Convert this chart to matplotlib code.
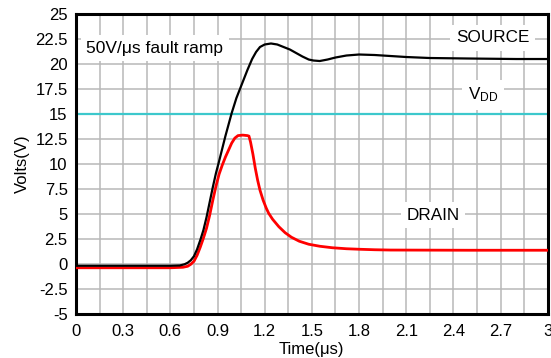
import matplotlib.pyplot as plt
import numpy as np

plt.rcParams['font.family'] = ['Liberation Sans', 'DejaVu Sans']

# SOURCE trace (black)
src_t = [0, 0.3, 0.6, 0.66, 0.69, 0.71, 0.73, 0.75, 0.77, 0.79, 0.81, 0.83, 0.85, 0.87, 0.89,
         0.91, 0.95, 0.99, 1.02, 1.055, 1.09, 1.12, 1.145, 1.17, 1.2, 1.24, 1.28, 1.32, 1.36,
         1.40, 1.44, 1.48, 1.51, 1.55, 1.6, 1.65, 1.72, 1.8, 1.9, 2.0, 2.1, 2.25, 2.5, 2.8, 3.0]
src_v = [-0.15, -0.15, -0.15, -0.12, 0.0, 0.15, 0.4, 0.8, 1.5, 2.4, 3.4, 4.7, 6.2, 7.7, 9.1,
         10.3, 12.8, 15.1, 16.6, 18.0, 19.4, 20.5, 21.2, 21.7, 21.95, 22.05, 21.95, 21.7, 21.45,
         21.1, 20.75, 20.45, 20.35, 20.3, 20.45, 20.65, 20.85, 20.95, 20.9, 20.8, 20.7, 20.6, 20.55, 20.5, 20.5]

# DRAIN trace (red)
drn_t = [0, 0.3, 0.6, 0.68, 0.71, 0.73, 0.75, 0.77, 0.79, 0.81, 0.83, 0.85, 0.87, 0.89, 0.91,
         0.93, 0.95, 0.97, 0.99, 1.01, 1.03, 1.06, 1.09, 1.10, 1.11, 1.125, 1.14, 1.155, 1.17,
         1.19, 1.21, 1.225, 1.25, 1.29, 1.33, 1.37, 1.42, 1.48, 1.55, 1.63, 1.72, 1.8, 1.9,
         2.0, 2.5, 3.0]
drn_v = [-0.35, -0.35, -0.35, -0.3, -0.2, 0.0, 0.3, 0.9, 1.7, 2.6, 3.6, 4.9, 6.4, 7.8, 9.0,
         9.9, 10.7, 11.4, 12.1, 12.6, 12.85, 12.9, 12.85, 12.8, 12.2, 11.0, 9.6, 8.4, 7.4,
         6.4, 5.6, 5.1, 4.5, 3.75, 3.15, 2.7, 2.3, 2.0, 1.8, 1.65, 1.55, 1.5, 1.45,
         1.42, 1.4, 1.4]

vdd = 15

fig = plt.figure(figsize=(5.51, 3.58), dpi=100)
ax = fig.add_axes([0.138, 0.122, 0.856, 0.839])

ax.set_xlim(0, 3)
ax.set_ylim(-5, 25)
ax.set_xticks(np.arange(0, 3.01, 0.3))
ax.set_xticks(np.arange(0, 3.01, 0.15), minor=True)
ax.set_xticklabels(['0', '0.3', '0.6', '0.9', '1.2', '1.5', '1.8', '2.1', '2.4', '2.7', '3'])
ax.set_yticks(np.arange(-5, 25.1, 2.5))
ax.set_yticklabels(['-5', '-2.5', '0', '2.5', '5', '7.5', '10', '12.5', '15', '17.5', '20', '22.5', '25'])
ax.tick_params(which='both', length=0, labelsize=12)
ax.tick_params(axis='y', pad=6)
ax.tick_params(axis='x', pad=7)
ax.grid(True, which='both', color='#b8b8b8', linewidth=1.1)
ax.set_axisbelow(True)
for s in ax.spines.values():
    s.set_linewidth(2.2)
    s.set_color('black')

ax.axhline(vdd, color='#3cc8cc', linewidth=1.6, zorder=2)
ax.plot(drn_t, drn_v, color='#ff0000', linewidth=2.0, zorder=3)
ax.plot(src_t, src_v, color='black', linewidth=1.6, zorder=4)

box = dict(facecolor='white', edgecolor='none', pad=4)
ax.text(0.5, 21.6, '50V/\u03bcs fault ramp', fontsize=12.5, ha='center', va='center', bbox=box, zorder=5)
ax.text(2.65, 22.6, 'SOURCE', fontsize=12.3, ha='center', va='center', bbox=box, zorder=5)
ax.text(2.59, 16.9, '$\\mathregular{V_{DD}}$', fontsize=12.3, ha='center', va='center', bbox=box, zorder=5)
ax.text(2.27, 4.9, 'DRAIN', fontsize=12.3, ha='center', va='center', bbox=box, zorder=5)

ax.set_xlabel('Time(\u03bcs)', fontsize=12, labelpad=2)
ax.set_ylabel('Volts(V)', fontsize=12, labelpad=4)

fig.savefig('out.png', dpi=100)
